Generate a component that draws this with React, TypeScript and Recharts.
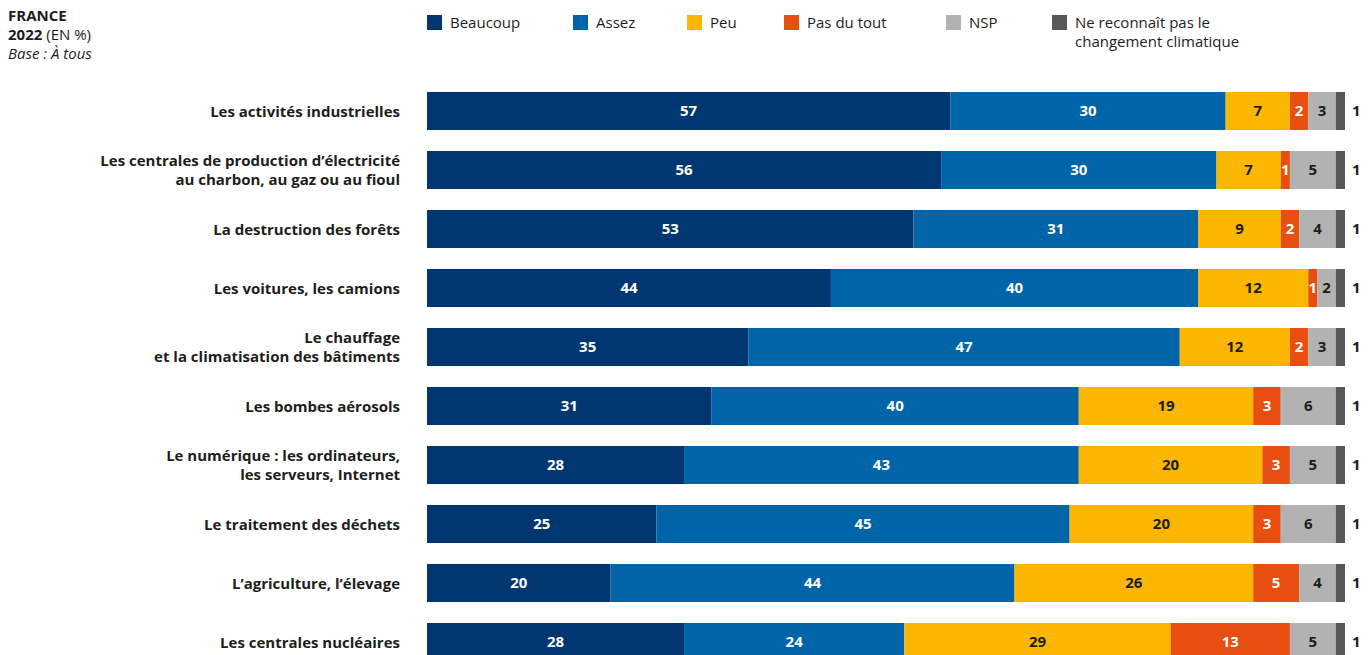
import { BarChart, Bar, XAxis, YAxis, LabelList } from 'recharts'

const categories = [
  'Les activités industrielles',
  'Les centrales de production d’électricité\nau charbon, au gaz ou au fioul',
  'La destruction des forêts',
  'Les voitures, les camions',
  'Le chauffage\net la climatisation des bâtiments',
  'Les bombes aérosols',
  'Le numérique : les ordinateurs,\nles serveurs, Internet',
  'Le traitement des déchets',
  'L’agriculture, l’élevage',
  'Les centrales nucléaires',
]

const beaucoup = [57, 56, 53, 44, 35, 31, 28, 25, 20, 28]
const assez = [30, 30, 31, 40, 47, 40, 43, 45, 44, 24]
const peu = [7, 7, 9, 12, 12, 19, 20, 20, 26, 29]
const pasDuTout = [2, 1, 2, 1, 2, 3, 3, 3, 5, 13]
const nsp = [3, 5, 4, 2, 3, 6, 5, 6, 4, 5]
const nonReconnu = [1, 1, 1, 1, 1, 1, 1, 1, 1, 1]

const series = [
  { key: 'beaucoup', name: 'Beaucoup', color: '#003770', text: '#fff' },
  { key: 'assez', name: 'Assez', color: '#0065a8', text: '#fff' },
  { key: 'peu', name: 'Peu', color: '#fbb600', text: '#1d1d1b' },
  { key: 'pasDuTout', name: 'Pas du tout', color: '#e84e0f', text: '#fff' },
  { key: 'nsp', name: 'NSP', color: '#b2b2b2', text: '#1d1d1b' },
  { key: 'nonReconnu', name: 'Ne reconnaît pas le\nchangement climatique', color: '#575756', text: '#1d1d1b' },
]

const data = categories.map((label, i) => ({
  label,
  beaucoup: beaucoup[i],
  assez: assez[i],
  peu: peu[i],
  pasDuTout: pasDuTout[i],
  nsp: nsp[i],
  nonReconnu: nonReconnu[i],
}))

const legendX = [427, 573, 687, 784, 946, 1052]

const font = '"Open Sans", sans-serif'

function CategoryTick({ x, y, payload }: any) {
  const lines = String(payload.value).split('\n')
  const start = y - ((lines.length - 1) * 19) / 2
  return (
    <text x={x} y={start} textAnchor="end" dominantBaseline="central" fontSize={15} fontWeight={700} fill="#1d1d1b" fontFamily={font}>
      {lines.map((l, i) => (
        <tspan key={i} x={x} dy={i === 0 ? 0 : 19}>{l}</tspan>
      ))}
    </text>
  )
}

export default function App() {
  return (
    <div style={{ position: 'absolute', left: 0, top: 0, width: 1370, height: 655, overflow: 'hidden', background: '#fff', fontFamily: font, color: '#1d1d1b' }}>
      <div style={{ position: 'absolute', left: 8, top: 6, fontSize: 15, lineHeight: '19px' }}>
        <div style={{ fontWeight: 700 }}>FRANCE</div>
        <div><b>2022</b> (EN %)</div>
        <div style={{ fontStyle: 'italic' }}>Base : À tous</div>
      </div>
      {series.map((s, i) => (
        <div key={s.key} style={{ position: 'absolute', left: legendX[i], top: 13, display: 'flex', fontSize: 15, lineHeight: '19px' }}>
          <div style={{ width: 15, height: 15, background: s.color, marginTop: 2, marginRight: 8 }} />
          <div style={{ whiteSpace: 'pre' }}>{s.name}</div>
        </div>
      ))}
      <div style={{ position: 'absolute', left: 0, top: 0 }}>
        <BarChart
          width={1370}
          height={671}
          data={data}
          layout="vertical"
          margin={{ top: 81, right: 25, bottom: 0, left: 0 }}
          barSize={38}
        >
          <XAxis type="number" domain={[0, 100]} hide />
          <YAxis
            type="category"
            dataKey="label"
            width={427}
            axisLine={false}
            tickLine={false}
            tickSize={0}
            tickMargin={27}
            interval={0}
            tick={<CategoryTick />}
          />
          {series.map((s, i) => (
            <Bar key={s.key} dataKey={s.key} stackId="a" fill={s.color} isAnimationActive={false}>
              <LabelList
                dataKey={s.key}
                position={i === series.length - 1 ? 'right' : 'center'}
                offset={7}
                fill={s.text}
                fontSize={15}
                fontWeight={700}
                fontFamily={font}
              />
            </Bar>
          ))}
        </BarChart>
      </div>
    </div>
  )
}
